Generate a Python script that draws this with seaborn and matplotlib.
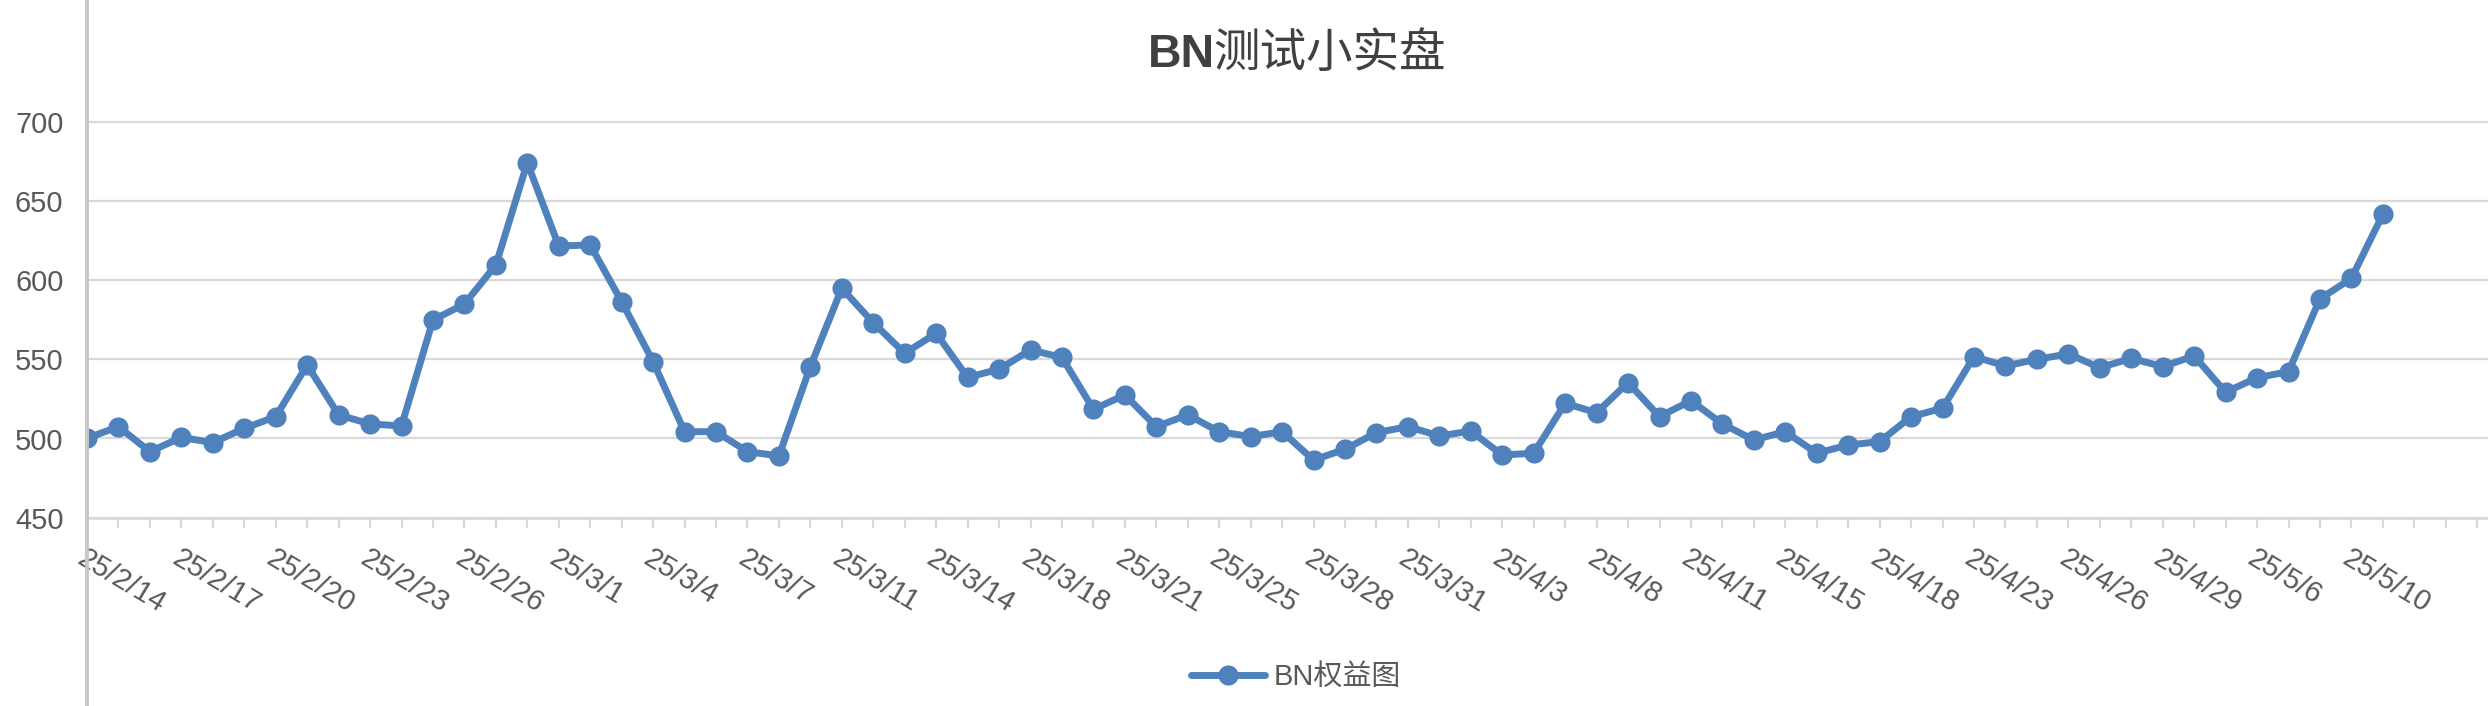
import numpy as np
import pandas as pd
import matplotlib
matplotlib.use("Agg")
import matplotlib.pyplot as plt
from matplotlib.lines import Line2D
import seaborn as sns

# dates (every 3rd one is shown on the axis)
dates = [
    "25/2/14", "25/2/15", "25/2/16", "25/2/17", "25/2/18", "25/2/19", "25/2/20", "25/2/21",
    "25/2/22", "25/2/23", "25/2/24", "25/2/25", "25/2/26", "25/2/27", "25/2/28", "25/3/1",
    "25/3/2", "25/3/3", "25/3/4", "25/3/5", "25/3/6", "25/3/7", "25/3/9", "25/3/10",
    "25/3/11", "25/3/12", "25/3/13", "25/3/14", "25/3/16", "25/3/17", "25/3/18", "25/3/19",
    "25/3/20", "25/3/21", "25/3/23", "25/3/24", "25/3/25", "25/3/26", "25/3/27", "25/3/28",
    "25/3/29", "25/3/30", "25/3/31", "25/4/1", "25/4/2", "25/4/3", "25/4/6", "25/4/7",
    "25/4/8", "25/4/9", "25/4/10", "25/4/11", "25/4/13", "25/4/14", "25/4/15", "25/4/16",
    "25/4/17", "25/4/18", "25/4/21", "25/4/22", "25/4/23", "25/4/24", "25/4/25", "25/4/26",
    "25/4/27", "25/4/28", "25/4/29", "25/4/30", "25/5/5", "25/5/6", "25/5/8", "25/5/9",
    "25/5/10", "25/5/11",
]
equity = [
    500.1, 507.5, 491.7, 500.7, 497.4, 506.4, 513.8, 546.4, 514.9, 509.2,
    507.9, 574.8, 584.9, 609.5, 674.1, 621.5, 622.2, 586.4, 548.5, 504.3,
    504.3, 491.7, 489.0, 545.4, 594.8, 573.1, 553.8, 566.4, 538.6, 543.7,
    555.9, 551.2, 518.4, 527.5, 507.5, 514.9, 504.3, 501.2, 504.3, 486.4,
    493.2, 503.7, 507.5, 501.6, 504.7, 489.6, 490.7, 522.2, 516.3, 535.3,
    513.8, 523.9, 509.2, 499.1, 504.3, 490.7, 495.9, 498.0, 513.8, 519.1,
    551.7, 545.8, 550.0, 553.4, 544.7, 550.6, 545.4, 552.1, 529.2, 538.4,
    542.2, 588.1, 601.1, 641.5,
]
y_ticks = [450, 500, 550, 600, 650, 700]
title_en = "BN"
title_cn = "测试小实盘"
series_name = "BN权益图"

df = pd.DataFrame({"pos": np.arange(len(equity)), "equity": equity})

sns.set_theme(style="white")
plt.rcParams["font.family"] = ["Liberation Sans", "Noto Sans CJK SC", "DejaVu Sans"]

W, H = 2488, 706
fig = plt.figure(figsize=(W / 100, H / 100), dpi=100)
ax = fig.add_axes([87 / W, 1 - 517.7 / H, 1 - 87 / W, (517.7 - 42.5) / H])

blue = "#4F81BD"
grid_c = "#D9D9D9"
text_c = "#595959"

sns.lineplot(data=df, x="pos", y="equity", ax=ax, color=blue, linewidth=5,
             marker="o", markersize=14.5, markeredgewidth=0, label=series_name)
for ln in ax.lines:
    ln.set_solid_joinstyle("round")
    ln.set_solid_capstyle("round")

ax.set_ylim(450, 750)
ax.set_yticks(y_ticks)
ax.set_xlim(0, (W - 87) / 31.45)
n_ticks = int(ax.get_xlim()[1]) + 1
ax.set_xticks(range(n_ticks))
xlabels = [dates[i] if (i < len(dates) and i % 3 == 0) else "" for i in range(n_ticks)]
ax.set_xticklabels(xlabels, rotation=-31, ha="left", va="top", rotation_mode="anchor")
ax.set_xlabel("")
ax.set_ylabel("")

ax.grid(axis="y", color=grid_c, linewidth=1.6)
ax.grid(axis="x", visible=False)
for s in ["top", "right", "left"]:
    ax.spines[s].set_visible(False)
ax.spines["bottom"].set_color(grid_c)
ax.spines["bottom"].set_linewidth(2)
ax.tick_params(axis="x", length=7.2, width=1.5, color=grid_c, pad=12,
               labelsize=21, labelcolor=text_c, bottom=True)
ax.tick_params(axis="y", length=0, pad=17, labelsize=20.9, labelcolor=text_c)

# gray frame line on the left
fig.add_artist(Line2D([87 / W, 87 / W], [0, 1], transform=fig.transFigure,
                      color="#C8C8C8", linewidth=2.8))

# title: bold latin part + regular chinese part
fig.text(1215 / W, 1 - 67 / H, title_en, ha="right", va="baseline", fontsize=33.5,
         fontweight="bold", color="#404040", family=["Liberation Sans", "DejaVu Sans"])
fig.text(1213 / W, 1 - 67 / H, title_cn, ha="left", va="baseline", fontsize=33.5,
         color="#404040", family=["Noto Sans CJK SC", "DejaVu Sans"])

leg = ax.legend(loc="center", bbox_to_anchor=(1296 / W, 1 - 677 / H),
                bbox_transform=fig.transFigure, frameon=False, fontsize=20.9,
                handlelength=2.55, handletextpad=0.28, borderpad=0)
for t in leg.get_texts():
    t.set_color(text_c)

fig.savefig("out.png", dpi=100)
